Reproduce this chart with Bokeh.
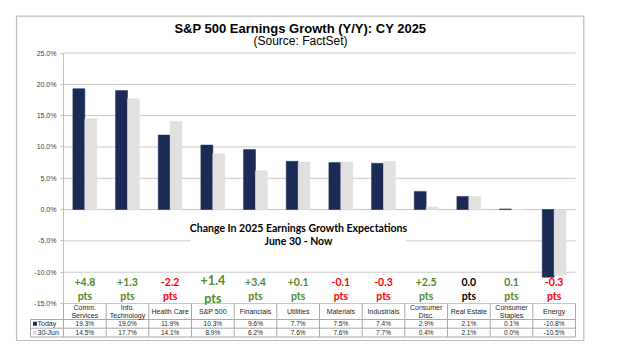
from bokeh.plotting import figure
from bokeh.models import Range1d, LinearAxis, FixedTicker, PrintfTickFormatter, ColumnDataSource
from bokeh.core.properties import value
from bokeh.embed import file_html
from bokeh.resources import INLINE

# ---------------- data ----------------
categories = ["Comm.\nServices", "Info.\nTechnology", "Health Care", "S&P 500", "Financials",
              "Utilities", "Materials", "Industrials", "Consumer\nDisc.", "Real Estate",
              "Consumer\nStaples", "Energy"]
today = [19.3, 19.0, 11.9, 10.3, 9.6, 7.7, 7.5, 7.4, 2.9, 2.1, 0.1, -10.8]
june30 = [14.5, 17.7, 14.1, 8.9, 6.2, 7.6, 7.6, 7.7, 0.4, 2.1, 0.0, -10.5]
change_labels = ["+4.8", "+1.3", "-2.2", "+1.4", "+3.4", "+0.1", "-0.1", "-0.3", "+2.5", "0.0", "0.1", "-0.3"]
change_dir = ["up", "up", "down", "up", "up", "up", "down", "down", "up", "flat", "up", "down"]
y_ticks = [-15, -10, -5, 0, 5, 10, 15, 20, 25]
series_names = ["Today", "30-Jun"]
title_text = "S&P 500 Earnings Growth (Y/Y): CY 2025"
subtitle_text = "(Source: FactSet)"
note_lines = ["Change In 2025 Earnings Growth Expectations", "June 30 - Now"]

# ---------------- styles ----------------
NAVY = "#1c2a56"
LGRAY = "#e0e0e0"
GRID = "#c8c8c8"
TABLE = "#a9a9a9"
dir_colors = {"up": "#4f8a2b", "down": "#ff0000", "flat": "#000000"}
ARIAL = "Liberation Sans"
CAL = "Lato"

W, H = 617, 353
n = len(categories)
# frame covers the whole canvas; plot area 63..575 px wide, 25% at 52.5px, -15% at 303px
unit = 512 / n
X0 = -(63 / unit) - 0.5
X1 = (W - 63) / unit - 0.5
ppv = 250.5 / 40.0
zero_px = 52.5 + 25 * ppv
Y1 = zero_px / ppv
Y0 = -(H - zero_px) / ppv


def xd(px):
    return (px - 63) / unit - 0.5


def yd(py):
    return (zero_px - py) / ppv


p = figure(width=W, height=H, x_range=Range1d(X0, X1), y_range=Range1d(Y0, Y1),
           min_border=0, toolbar_location=None, output_backend="svg",
           x_axis_type=None, y_axis_type=None, outline_line_color=None,
           background_fill_color="white", border_fill_color="white")

# outer box
p.quad(left=[xd(16)], right=[xd(583.3)], top=[yd(15.7)], bottom=[yd(340)],
       fill_color=None, line_color="#bdbdbd", line_width=1.2)

# gridlines
p.segment(x0=[-0.5] * len(y_ticks), x1=[n - 0.5] * len(y_ticks), y0=y_ticks, y1=y_ticks,
          line_color=GRID, line_width=1)

# y axis
yax = LinearAxis(fixed_location=-0.5, ticker=FixedTicker(ticks=y_ticks),
                 formatter=PrintfTickFormatter(format="%.1f%%"), bounds=(-15, 25),
                 axis_line_color="#bfbfbf", major_tick_line_color="#bfbfbf",
                 major_tick_out=3, major_tick_in=0, minor_tick_line_color=None,
                 major_label_text_font_size="7px", major_label_text_font=ARIAL,
                 major_label_text_color="#404040", major_label_standoff=4)
p.add_layout(yax, "left")

# bars
xs = list(range(n))
off = 0.14
bw = 0.28
p.vbar(x=[i - off for i in xs], top=today, bottom=0, width=bw, fill_color=NAVY, line_color=NAVY, line_width=0.5)
p.vbar(x=[i + off for i in xs], top=june30, bottom=0, width=bw, fill_color=LGRAY, line_color=LGRAY, line_width=0.5)

# note box
p.quad(left=[xd(190.5)], right=[xd(405.5)], top=[yd(216)], bottom=[yd(262)],
       fill_color="white", line_color=None)
p.text(x=[xd(298)] * 2, y=[yd(227.7), yd(240.5)], text=note_lines,
       text_font=value(CAL), text_font_style="bold", text_font_size="10.5px",
       text_color="#000000", text_align="center", text_baseline="middle")

# change labels
sp = categories.index("S&P 500")
num_y = [yd(279.5) if i == sp else yd(281) for i in xs]
pts_y = [yd(298) if i == sp else yd(295) for i in xs]
sizes = ["12.5px" if i == sp else "10.5px" for i in xs]
cols = [dir_colors[d] for d in change_dir]
src = ColumnDataSource(dict(x=xs, ny=num_y, py=pts_y, t=change_labels, pt=["pts"] * n, s=sizes, c=cols))
p.text(x="x", y="ny", text="t", text_font_size="s", text_color="c", source=src,
       text_font=value(CAL), text_font_style="bold", text_align="center", text_baseline="middle")
p.text(x="x", y="py", text="pt", text_font_size="s", text_color="c", source=src,
       text_font=value(CAL), text_font_style="bold", text_align="center", text_baseline="middle")

# data table
r1, r2, r3 = yd(319), yd(327.7), yd(336.5)
leg_left = xd(30)
p.segment(x0=[leg_left] * 3, x1=[n - 0.5] * 3, y0=[r1, r2, r3], y1=[r1, r2, r3],
          line_color=TABLE, line_width=1)
vx = [i - 0.5 for i in range(n + 1)]
p.segment(x0=vx, x1=vx, y0=[-15] * len(vx), y1=[r3] * len(vx), line_color=TABLE, line_width=1)
p.segment(x0=[leg_left], x1=[leg_left], y0=[r1], y1=[r3], line_color=TABLE, line_width=1)

p.text(x=xs, y=[yd(311)] * n, text=categories, text_font=value(ARIAL), text_font_size="7px",
       text_color="#262626", text_align="center", text_baseline="middle", text_line_height=1.2)
row_y = [(r1 + r2) / 2, (r2 + r3) / 2]
p.text(x=xs, y=[row_y[0]] * n, text=[f"{v:.1f}%" for v in today], text_font=value(ARIAL),
       text_font_size="6.5px", text_color="#262626", text_align="center", text_baseline="middle")
p.text(x=xs, y=[row_y[1]] * n, text=[f"{v:.1f}%" for v in june30], text_font=value(ARIAL),
       text_font_size="6.5px", text_color="#262626", text_align="center", text_baseline="middle")
p.scatter(x=[xd(34.5)] * 2, y=row_y, marker="square", size=4, fill_color=[NAVY, LGRAY], line_color=None)
p.text(x=[xd(37)] * 2, y=row_y, text=series_names, text_font=value(ARIAL), text_font_size="7px",
       text_color="#262626", text_align="left", text_baseline="middle")

# titles
p.text(x=[xd(300)], y=[yd(28)], text=[title_text], text_font=value(ARIAL), text_font_style="bold",
       text_font_size="13px", text_color="#000000", text_align="center", text_baseline="middle")
p.text(x=[xd(300)], y=[yd(40.5)], text=[subtitle_text], text_font=value(ARIAL),
       text_font_size="12px", text_color="#000000", text_align="center", text_baseline="middle")

open("out.html", "w").write(file_html(p, INLINE))
